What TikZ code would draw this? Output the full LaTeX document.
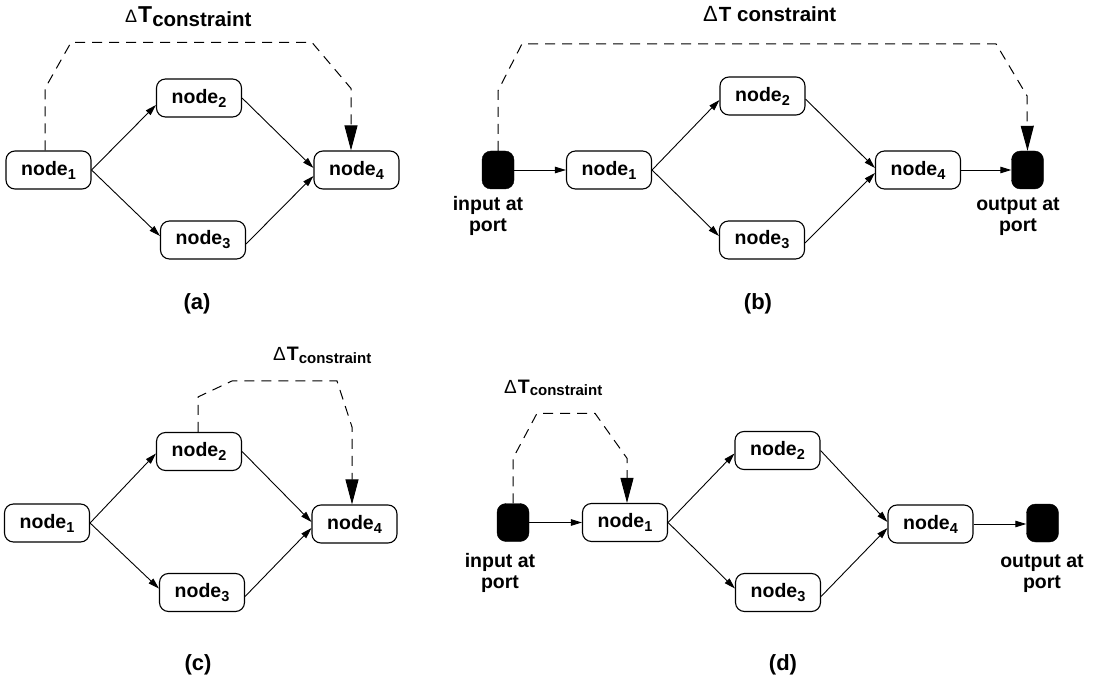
\documentclass[tikz,border=0pt]{standalone}
\usepackage{fontspec}
\setmainfont{Liberation Sans}
\usetikzlibrary{arrows.meta}
% node name with a lowered index
\newcommand{\nsub}[1]{node\raisebox{-4pt}{\fontsize{14.5}{14}\selectfont #1}}
\begin{document}
\begin{tikzpicture}[x=1pt,y=-1pt,
  box/.style={draw, line width=1.1pt, rounded corners=9pt, minimum width=85pt,
    minimum height=38pt, inner sep=0pt, font=\fontsize{19.5}{22}\selectfont\bfseries},
  port/.style={fill=black, draw=black, rounded corners=9pt, minimum width=32pt,
    minimum height=38pt, inner sep=0pt},
  flow/.style={-{Triangle[length=11pt,width=6.5pt]}, line width=0.9pt},
  limit/.style={dash pattern=on 10pt off 7pt, line width=1pt,
    -{Triangle[length=25pt,width=13pt]}},
  txt/.style={inner sep=0pt, anchor=base, font=\fontsize{19.5}{21}\selectfont\bfseries},
  subcap/.style={inner sep=0pt, anchor=base, font=\fontsize{22}{24}\selectfont\bfseries},
  lbl/.style={inner sep=0pt, anchor=base west}]
\useasboundingbox (0,0) rectangle (1096,679);

% ---------------- (a) ----------------
\node[box] (a1) at (48.5,170) {\nsub{1}};
\node[box] (a2) at (199,98) {\nsub{2}};
\node[box] (a3) at (203,240) {\nsub{3}};
\node[box] (a4) at (356.5,170) {\nsub{4}};
\draw[flow] (a1.east) -- ([yshift=-7pt]a2.west);
\draw[flow] (a1.east) -- ([yshift=4pt]a3.west);
\draw[flow] (a2.east) -- ([yshift=2pt]a4.west);
\draw[flow] ([yshift=-4pt]a3.east) -- ([yshift=-6pt]a4.west);
\draw[limit] ([xshift=-3.5pt]a1.north) -- ++(0,-62) -- ++(26,-46) -- ++(241,0)
  -- ++(39,46) -- ([xshift=-5.5pt]a4.north);
\node[lbl] (ta) at (125,23) {{\fontsize{18}{18}\selectfont Δ}\kern1pt
  {\fontsize{23}{23}\selectfont\bfseries T}\raisebox{-4pt}{\fontsize{20.5}{20}\selectfont\bfseries constraint}};
\node[subcap] (ca) at (197,310) {(a)};

% ---------------- (b) ----------------
\node[port] (bi) at (498,170) {};
\node[box] (b1) at (609,170) {\nsub{1}};
\node[box] (b2) at (762.5,96) {\nsub{2}};
\node[box] (b3) at (762,240) {\nsub{3}};
\node[box] (b4) at (918,170) {\nsub{4}};
\node[port] (bo) at (1027.5,170) {};
\draw[flow] (bi.east) -- (b1.west);
\draw[flow] (b1.east) -- ([yshift=-4pt]b2.west);
\draw[flow] (b1.east) -- ([yshift=4pt]b3.west);
\draw[flow] ([yshift=-3pt]b2.east) -- ([yshift=2pt]b4.west);
\draw[flow] ([yshift=-3pt]b3.east) -- ([yshift=-3pt]b4.west);
\draw[flow] (b4.east) -- (bo.west);
\draw[limit] (bi.north) -- ++(0,-60) -- ++(24,-47) -- ++(474,0)
  -- ++(31,52) -- (bo.north);
\node[txt] (bit1) at (488,211) {input at};
\node[txt] (bit2) at (488,232) {port};
\node[txt] (bot1) at (1018,211) {output at};
\node[txt] (bot2) at (1018,232) {port};
\node[lbl] (tb) at (703,22) {{\fontsize{22}{22}\selectfont Δ}\kern1pt
  {\fontsize{20.5}{20}\selectfont\bfseries T constraint}};
\node[subcap] (cb) at (758,310) {(b)};

% ---------------- (c) ----------------
\node[box] (c1) at (47,523) {\nsub{1}};
\node[box] (c2) at (199,451.5) {\nsub{2}};
\node[box] (c3) at (202,592.5) {\nsub{3}};
\node[box] (c4) at (354.5,524) {\nsub{4}};
\draw[flow] (c1.east) -- ([yshift=-2pt]c2.west);
\draw[flow] (c1.east) -- ([yshift=4pt]c3.west);
\draw[flow] (c2.east) -- ([yshift=2pt]c4.west);
\draw[flow] ([yshift=-4pt]c3.east) -- ([yshift=-4pt]c4.west);
\draw[limit] ([xshift=-1pt]c2.north) -- ++(0,-35) -- ++(34,-16) -- ++(105,0)
  -- ++(15,46) -- ([xshift=-2.5pt]c4.north);
\node[lbl] (tc) at (273,360) {{\fontsize{19}{19}\selectfont Δ}\kern1pt
  {\fontsize{19.5}{19}\selectfont\bfseries T}\raisebox{-3pt}{\fontsize{15}{15}\selectfont\bfseries constraint}};
\node[subcap] (cc) at (198,670) {(c)};

% ---------------- (d) ----------------
\node[port] (di) at (513,522.5) {};
\node[box] (d1) at (625,522.5) {\nsub{1}};
\node[box] (d2) at (777.5,450.5) {\nsub{2}};
\node[box] (d3) at (778,592.5) {\nsub{3}};
\node[box] (d4) at (930.5,524) {\nsub{4}};
\node[port] (do) at (1042.5,523) {};
\draw[flow] (di.east) -- (d1.west);
\draw[flow] (d1.east) -- ([yshift=-3pt]d2.west);
\draw[flow] (d1.east) -- ([yshift=4pt]d3.west);
\draw[flow] (d2.east) -- ([yshift=2pt]d4.west);
\draw[flow] ([yshift=-4pt]d3.east) -- ([yshift=-4pt]d4.west);
\draw[flow] (d4.east) -- (d4.east -| do.west);
\draw[limit] (di.north) -- ++(0,-45) -- ++(24,-45) -- ++(58,0)
  -- ++(32,45) -- ([xshift=2pt]d1.north);
\node[txt] (dit1) at (500,567) {input at};
\node[txt] (dit2) at (500,588) {port};
\node[txt] (dot1) at (1042,567) {output at};
\node[txt] (dot2) at (1042,588) {port};
\node[lbl] (td) at (504,393) {{\fontsize{19}{19}\selectfont Δ}\kern1pt
  {\fontsize{19.5}{19}\selectfont\bfseries T}\raisebox{-2.5pt}{\fontsize{15}{15}\selectfont\bfseries constraint}};
\node[subcap] (cd) at (783,670) {(d)};
\end{tikzpicture}
\end{document}
